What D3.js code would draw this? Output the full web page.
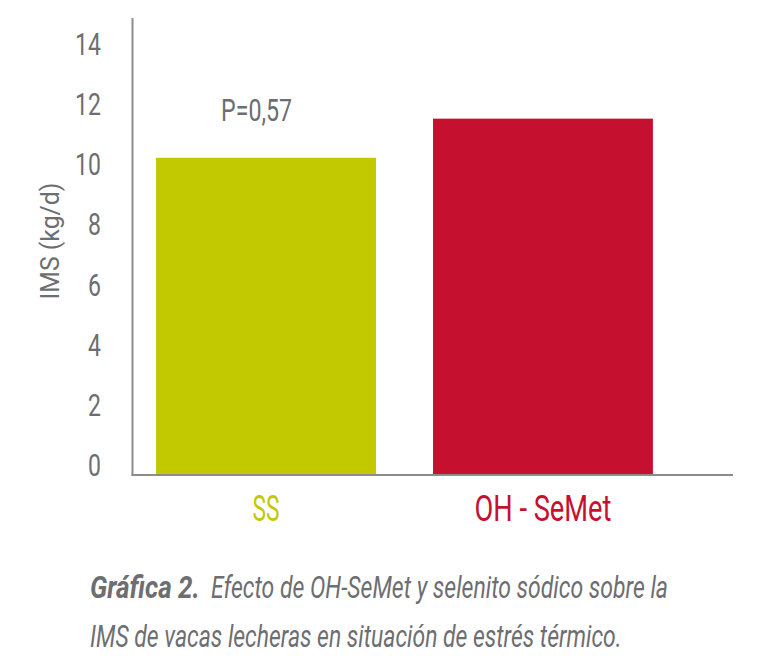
<!DOCTYPE html>
<html><head><meta charset="utf-8">
<script src="https://cdn.jsdelivr.net/npm/d3@7"></script>
<style>
body{margin:0;background:#fff;}
svg text{font-family:Roboto,"Open Sans",sans-serif;}
</style></head>
<body><svg id="c" width="768" height="670"></svg>
<script>
const categories = ["SS", "OH - SeMet"];
const values = [10.55, 11.85];
const colors = ["#c3c900", "#c5112f"];
const yTicks = [0, 2, 4, 6, 8, 10, 12, 14];
const pLabel = "P=0,57";
const yTitle = "IMS (kg/d)";
const captionBold = "Gráfica 2.";
const captionLine1 = "Efecto de OH-SeMet y selenito sódico sobre la";
const captionLine2 = "IMS de vacas lecheras en situación de estrés térmico.";

const svg = d3.select("#c");
const grey = "#6d6e71";
const x = d3.scaleBand().domain(categories).range([132, 677]).paddingInner(0.206).paddingOuter(0.087);
const y = d3.scaleLinear().domain([0, 14]).range([475, 54]);

// text placed at (px,py) then squeezed horizontally to a target width or factor
function ctext(px, py, str, opts) {
  const g = svg.append("g").attr("transform", `translate(${px},${py})`);
  const t = g.append("text").attr("x",0).attr("y",0)
    .attr("text-anchor", opts.anchor || "start")
    .attr("font-size", opts.size).attr("fill", opts.fill || grey)
    .attr("font-style", opts.italic ? "italic" : null)
    .attr("font-weight", opts.bold ? "bold" : null)
    .text(str);
  let sx = opts.sx || 0.74;
  if (opts.width) sx = opts.width / t.node().getComputedTextLength();
  t.attr("transform", `scale(${sx},1)`);
  if (opts.rotate) g.attr("transform", `translate(${px},${py}) rotate(${opts.rotate})`);
  return g;
}

// bars
svg.selectAll("rect.bar").data(values).join("rect")
  .attr("x", (d,i) => x(categories[i]))
  .attr("width", x.bandwidth())
  .attr("y", d => y(d))
  .attr("height", d => y(0) - y(d))
  .attr("fill", (d,i) => colors[i]);

// axes lines
svg.append("line").attr("x1",132.5).attr("x2",132.5).attr("y1",18).attr("y2",475.5)
  .attr("stroke","#8c8c8c").attr("stroke-width",2);
svg.append("line").attr("x1",131.5).attr("x2",733).attr("y1",475).attr("y2",475)
  .attr("stroke","#8c8c8c").attr("stroke-width",2);

// y tick labels (baseline at tick value)
yTicks.forEach(d => ctext(101, y(d) + 1, String(d), {anchor:"end", size:32, sx:0.72}));

// y title
ctext(59, 241, yTitle, {anchor:"middle", size:26, width:117, rotate:-90});

// p label
ctext(x(categories[0]) + x.bandwidth()/2 - 9.5, 121, pLabel, {anchor:"middle", size:31, width:71});

// category labels
const catW = [27, 137];
categories.forEach((c,i) => ctext(x(c) + x.bandwidth()/2, 521, c, {anchor:"middle", size:37, fill:colors[i], width:catW[i]}));

// caption
ctext(90, 598, captionBold, {size:32, bold:true, italic:true, width:110});
ctext(211, 598, captionLine1, {size:32, italic:true, width:457});
ctext(90, 647, captionLine2, {size:32, italic:true, width:532});
</script></body></html>
